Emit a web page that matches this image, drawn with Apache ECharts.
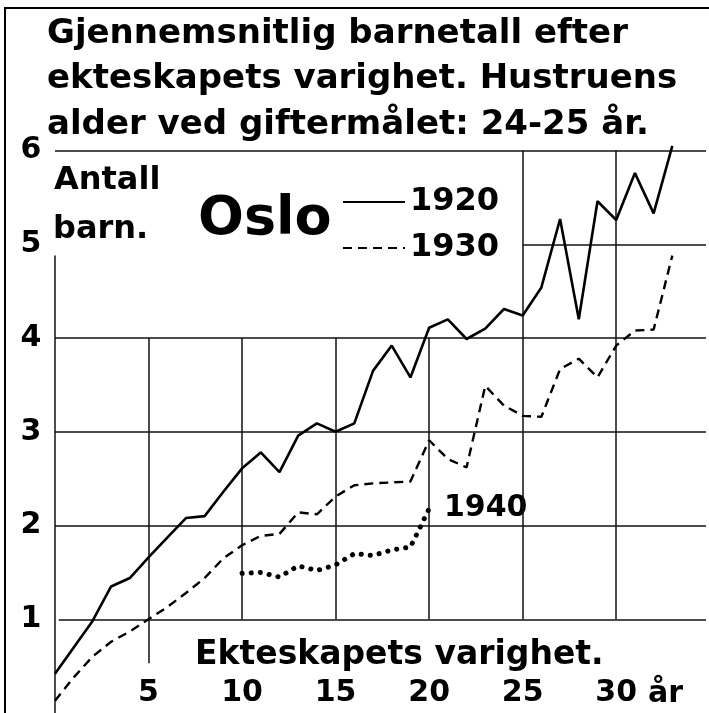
<!DOCTYPE html>
<html>
<head>
<meta charset="utf-8">
<script src="https://cdn.jsdelivr.net/npm/echarts@6/dist/echarts.min.js"></script>
<style>
html, body { margin: 0; padding: 0; background: #fff; }
#chart { width: 709px; height: 713px; }
</style>
</head>
<body>
<div id="chart"></div>
<script>
// ekteskapets varighet (år)
var years = [0, 1, 2, 3, 4, 5, 6, 7, 8, 9, 10, 11, 12, 13, 14, 15, 16, 17, 18, 19, 20, 21, 22, 23, 24, 25, 26, 27, 28, 29, 30, 31, 32, 33];
var barn1920 = [0.42, 0.70, 0.98, 1.35, 1.44, 1.66, 1.87, 2.08, 2.10, 2.36, 2.61, 2.78, 2.57, 2.96, 3.09, 3.00, 3.09, 3.65, 3.92, 3.58, 4.11, 4.20, 3.99, 4.10, 4.31, 4.24, 4.54, 5.27, 4.20, 5.46, 5.26, 5.76, 5.33, 6.05];
var barn1930 = [0.13, 0.38, 0.60, 0.76, 0.87, 1.00, 1.13, 1.28, 1.44, 1.65, 1.79, 1.89, 1.91, 2.14, 2.12, 2.31, 2.43, 2.45, 2.46, 2.47, 2.91, 2.71, 2.62, 3.49, 3.28, 3.17, 3.16, 3.67, 3.78, 3.58, 3.92, 4.08, 4.09, 4.88];
var years1940 = [10, 11, 12, 13, 14, 15, 16, 17, 18, 19, 20];
var barn1940 = [1.49, 1.50, 1.45, 1.57, 1.52, 1.58, 1.70, 1.68, 1.74, 1.77, 2.18];
var xTicks = [5, 10, 15, 20, 25, 30];
var yTicks = [1, 2, 3, 4, 5, 6];

// rutenett som i tegningen (ikke fullt)
var rutenett = [
  [[0, 6], [34.8, 6]],
  [[25, 5], [34.8, 5]],
  [[0, 4], [34.8, 4]],
  [[0, 3], [34.8, 3]],
  [[0, 2], [34.8, 2]],
  [[0.2, 1], [34.8, 1]],
  [[0, 0], [0, 4.88]],
  [[5, 0.53], [5, 4]],
  [[10, 1], [10, 4]],
  [[15, 1], [15, 4]],
  [[20, 1], [20, 4]],
  [[25, 1], [25, 6]],
  [[30, 1], [30, 6]]
];

function par(xs, ys) {
  return xs.map(function (x, i) { return [x, ys[i]]; });
}

var FONT = '"DejaVu Sans", sans-serif';
var chart = echarts.init(document.getElementById('chart'));

chart.setOption({
  backgroundColor: '#fff',
  animation: false,
  title: {
    text: 'Gjennemsnitlig barnetall efter\nekteskapets varighet. Hustruens\nalder ved giftermålet: 24-25 år.',
    left: 42,
    top: 6,
    textStyle: { fontFamily: FONT, fontWeight: 'bold', fontSize: 34, lineHeight: 45.5, color: '#000' }
  },
  legend: {
    data: ['1920', '1930'],
    orient: 'vertical',
    left: 337,
    top: 181,
    itemWidth: 62,
    itemHeight: 14,
    itemGap: 14,
    itemStyle: { opacity: 0 },
    textStyle: { fontFamily: FONT, fontWeight: 'bold', fontSize: 32, lineHeight: 32, color: '#000' }
  },
  grid: { left: 55, right: 0, top: 10, bottom: -2 },
  xAxis: {
    type: 'value', min: 0, max: 34.8, interval: 5,
    axisLine: { show: false }, axisTick: { show: false }, splitLine: { show: false },
    axisLabel: {
      inside: true, margin: 20, verticalAlign: 'middle',
      fontFamily: FONT, fontWeight: 'bold', fontSize: 30, color: '#000',
      formatter: function (v) { return xTicks.indexOf(v) >= 0 ? String(v) : ''; }
    }
  },
  yAxis: {
    type: 'value', min: 0, max: 7.5, interval: 1,
    axisLine: { show: false }, axisTick: { show: false }, splitLine: { show: false },
    axisLabel: {
      margin: 24, align: 'center', showMaxLabel: false,
      fontFamily: FONT, fontWeight: 'bold', fontSize: 30, color: '#000',
      formatter: function (v) { return yTicks.indexOf(v) >= 0 ? String(v) : ''; }
    }
  },
  graphic: [
    { type: 'rect', shape: { x: 5, y: 8, width: 712, height: 712 }, style: { fill: 'none', stroke: '#000', lineWidth: 2 }, silent: true },
    { type: 'text', x: 54, y: 181, style: { text: 'Antall', font: 'bold 32px ' + FONT, fill: '#000', align: 'left', verticalAlign: 'middle' } },
    { type: 'text', x: 53, y: 230, style: { text: 'barn.', font: 'bold 32px ' + FONT, fill: '#000', align: 'left', verticalAlign: 'middle' } },
    { type: 'text', x: 198, y: 220, style: { text: 'Oslo', font: 'bold 54px ' + FONT, fill: '#000', align: 'left', verticalAlign: 'middle' } },
    { type: 'text', x: 444, y: 508, style: { text: '1940', font: 'bold 30px ' + FONT, fill: '#000', align: 'left', verticalAlign: 'middle' } },
    { type: 'text', x: 195, y: 655, style: { text: 'Ekteskapets varighet.', font: 'bold 33px ' + FONT, fill: '#000', align: 'left', verticalAlign: 'middle' } },
    { type: 'text', x: 648, y: 694, style: { text: 'år', font: 'bold 30px ' + FONT, fill: '#000', align: 'left', verticalAlign: 'middle' } }
  ],
  series: [
    {
      name: 'rutenett',
      type: 'lines',
      coordinateSystem: 'cartesian2d',
      silent: true,
      z: 1,
      lineStyle: { color: '#111', width: 1.5, opacity: 1, curveness: 0 },
      data: rutenett.map(function (s) { return { coords: s }; })
    },
    {
      name: '1920',
      type: 'line',
      symbol: 'none',
      z: 3,
      lineStyle: { color: '#000', width: 2.6 },
      itemStyle: { color: '#000' },
      data: par(years, barn1920)
    },
    {
      name: '1930',
      type: 'line',
      symbol: 'none',
      z: 3,
      lineStyle: { color: '#000', width: 2.4, type: [9, 6] },
      itemStyle: { color: '#000' },
      data: par(years, barn1930)
    },
    {
      name: '1940',
      type: 'line',
      symbol: 'none',
      z: 3,
      lineStyle: { color: '#000', width: 5, type: [0.1, 9], cap: 'round' },
      itemStyle: { color: '#000' },
      data: par(years1940, barn1940)
    }
  ]
});
</script>
</body>
</html>
